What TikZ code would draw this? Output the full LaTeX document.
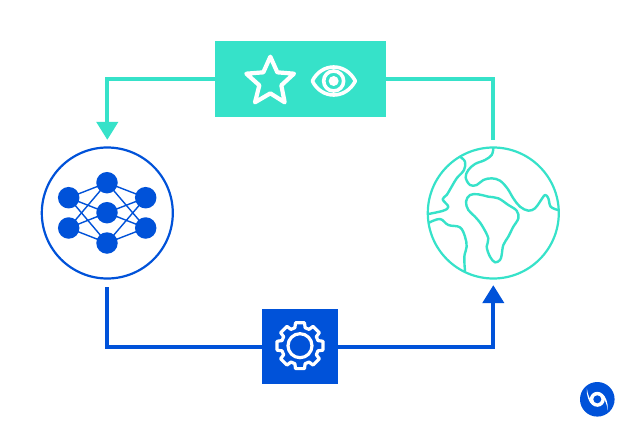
\documentclass[tikz,border=0pt]{standalone}
\usetikzlibrary{arrows.meta}
\definecolor{teal1}{RGB}{54,226,201}
\definecolor{blue1}{RGB}{0,82,217}
\tikzset{
  x=1pt,y=-1pt,
  ringnode/.style={circle,draw,line width=2.2pt,minimum size=131pt,inner sep=0pt},
  panel/.style={rectangle,inner sep=0pt},
  link/.style={line width=4pt,line join=miter},
  icon/.style={draw=white,line width=3.6pt,line join=round},
  coast/.style={draw=teal1,line width=2.4pt,line join=round,line cap=round},
  neuron/.style={circle,fill=blue1,minimum size=21.5pt,inner sep=0pt},
  synapse/.style={draw=blue1,line width=1.4pt},
  tipT/.style={-{Triangle[width=21pt,length=18pt]}}
}
\begin{document}
\begin{tikzpicture}
\useasboundingbox (0,0) rectangle (633,445);
\fill[white] (0,0) rectangle (633,445);
\node[panel,fill=teal1,minimum width=171pt,minimum height=76pt] (obs) at (300.5,79) {};
\node[panel,fill=blue1,minimum width=76pt,minimum height=75pt] (act) at (300,346.5) {};
\node[ringnode,draw=blue1] (net) at (107.3,213) {};
\node[ringnode,draw=teal1] (globe) at (493.3,213) {};
% connectors
\draw[link,teal1,tipT,shorten >=6.5pt] (obs.west) -| (net.north);
\draw[link,teal1,shorten >=6.5pt] (obs.east) -| (globe.north);
\draw[link,blue1,shorten <=7.5pt] (net.south) |- (act.west);
\draw[link,blue1,tipT,shorten >=5.5pt] (act.east) -| (globe.south);
% neurons
\node[neuron] (a1) at (68.7,197.7) {};
\node[neuron] (a2) at (68.7,228) {};
\node[neuron] (b1) at (107,182.7) {};
\node[neuron] (b2) at (107,212.7) {};
\node[neuron] (b3) at (107,243) {};
\node[neuron] (c1) at (145.7,197.7) {};
\node[neuron] (c2) at (145.7,228) {};
\foreach \u in {a1,a2,c1,c2}\foreach \v in {b1,b2,b3}{\draw[synapse] (\u.center) -- (\v.center);}
% globe
\begin{scope}[shift={(420,140)},x=0.33333pt,y=-0.33333pt]
\draw[coast] plot[smooth,tension=0.6] coordinates {(220,25)(215,45)(195,60)(165,72)(145,90)(137,112)(150,135)(170,135)(190,120)(215,115)(240,122)(262,145)(280,175)(300,200)(325,212)(345,205)(360,185)(375,165)(385,175)(392,200)(414,210)};
\draw[coast] plot[smooth,tension=0.6] coordinates {(120,50)(135,65)(132,90)(110,115)(95,140)(80,165)(68,178)(85,200)(70,212)(25,222)};
\draw[coast] plot[smooth,tension=0.6] coordinates {(27,248)(60,237)(85,255)(120,262)(135,290)(140,320)(133,350)(135,393)};
\draw[coast] plot[smooth cycle,tension=0.6] coordinates {(150,165)(175,163)(205,170)(235,175)(265,195)(290,212)(295,235)(280,260)(265,290)(250,315)(245,345)(240,360)(225,367)(210,350)(200,320)(205,295)(185,255)(165,230)(145,210)(138,185)};
\end{scope}
% star and eye
\begin{scope}[shift={(210,35)},x=0.33333pt,y=-0.33333pt]
\draw[icon,line width=4.2pt] (181,65)--(202,112)--(252,116)--(214,151)--(224,202)--(181,175)--(135,202)--(148,151)--(109,116)--(160,112)--cycle;
\draw[icon] (307,138) .. controls (335,82) and (407,82) .. (436,138) .. controls (407,194) and (335,194) .. (307,138) -- cycle;
\draw[icon] (371,138) circle (30);
\fill[white] (371,138) circle (15);
\end{scope}
% gear
\begin{scope}[shift={(300,345.7)},x=0.33333pt,y=-0.33333pt]
\draw[icon,line width=3.2pt] (-16:56) \foreach \a in {0,45,...,315}{ -- (\a-16:56) -- (\a-11:70) -- (\a+11:70) -- (\a+16:56)} -- cycle;
\draw[icon,line width=3.2pt] (0,0) circle (36);
\end{scope}
% logo
\begin{scope}[shift={(597.3,399.3)}]
\fill[blue1] (0,0) circle (17.3);
\fill[white] (0,0) circle (7.5);
\fill[white] (5,-5.5) .. controls (8.5,-3) and (11,4) .. (10.5,11) .. controls (9.5,5) and (8,1) .. (6,-1) -- cycle;
\fill[white] (-5,5.5) .. controls (-8.5,3) and (-11,-4) .. (-10.5,-11) .. controls (-9.5,-5) and (-8,-1) .. (-6,1) -- cycle;
\fill[blue1] (0,0) circle (4);
\end{scope}
\end{tikzpicture}
\end{document}
